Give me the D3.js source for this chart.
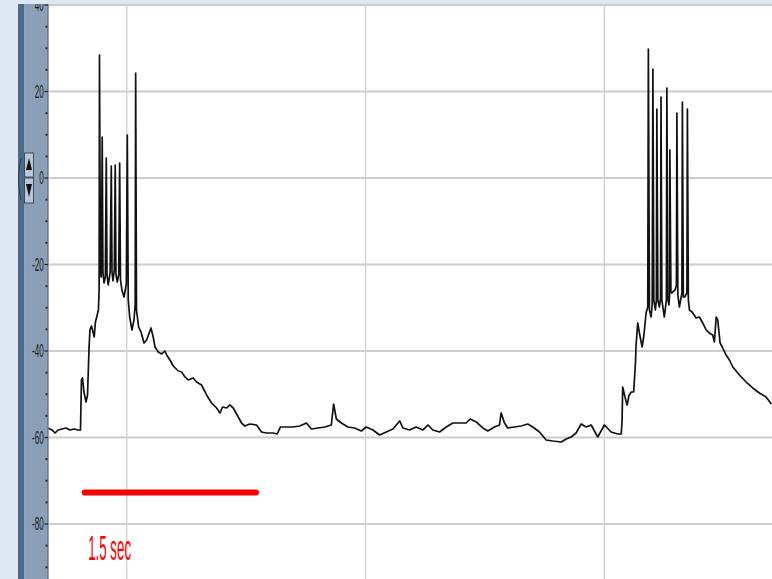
<!DOCTYPE html>
<html><head><meta charset="utf-8">
<script src="https://cdn.jsdelivr.net/npm/d3@7"></script>
<style>html,body{margin:0;padding:0;background:#dde8f4;overflow:hidden}svg{display:block}</style>
</head><body>
<script>
// ---- data ----
const timeS = [1.341,1.374,1.400,1.425,1.458,1.492,1.525,1.559,1.592,1.613,1.621,1.630,1.642,1.659,1.672,1.684,1.692,1.705,1.718,1.728,1.738,1.751,1.763,1.769,1.772,1.780,1.787,1.795,1.801,1.810,1.821,1.829,1.835,1.845,1.861,1.871,1.877,1.885,1.896,1.904,1.910,1.921,1.933,1.941,1.948,1.960,1.977,1.997,2.005,2.013,2.025,2.044,2.061,2.071,2.075,2.082,2.100,2.120,2.145,2.167,2.203,2.222,2.237,2.264,2.293,2.320,2.335,2.362,2.390,2.432,2.460,2.488,2.515,2.557,2.585,2.627,2.669,2.711,2.753,2.781,2.803,2.837,2.864,2.892,2.925,2.962,2.990,3.031,3.087,3.129,3.171,3.226,3.260,3.288,3.338,3.393,3.449,3.505,3.547,3.602,3.658,3.714,3.733,3.756,3.798,3.853,3.909,3.965,4.007,4.062,4.118,4.174,4.230,4.286,4.313,4.369,4.425,4.481,4.523,4.564,4.620,4.676,4.732,4.787,4.843,4.877,4.927,4.982,5.024,5.080,5.122,5.136,5.164,5.191,5.247,5.303,5.359,5.401,5.457,5.513,5.568,5.639,5.681,5.722,5.764,5.806,5.848,5.890,5.945,6.001,6.057,6.113,6.142,6.149,6.154,6.173,6.191,6.206,6.225,6.246,6.261,6.266,6.280,6.294,6.317,6.330,6.350,6.364,6.369,6.378,6.392,6.401,6.407,6.415,6.428,6.436,6.440,6.449,6.461,6.471,6.475,6.482,6.503,6.520,6.524,6.532,6.541,6.547,6.549,6.558,6.564,6.593,6.604,6.608,6.616,6.629,6.650,6.654,6.662,6.675,6.692,6.696,6.704,6.713,6.735,6.769,6.797,6.824,6.853,6.880,6.908,6.922,6.937,6.950,6.970,6.992,7.020,7.048,7.076,7.132,7.188,7.243,7.299,7.355,7.399];
const voltageMV = [-57.80,-58.26,-58.96,-58.26,-58.03,-57.80,-58.26,-58.03,-58.26,-58.26,-46.70,-46.24,-49.48,-51.79,-50.17,-39.77,-35.14,-34.22,-35.61,-36.76,-33.29,-31.91,-30.52,-25.89,28.44,-21.73,-22.89,9.48,-21.73,-24.28,-22.89,4.62,-22.20,-24.74,-21.96,2.78,-21.73,-23.81,-21.27,3.01,-22.20,-24.05,-22.43,3.47,-23.58,-25.89,-27.51,-24.51,9.94,-28.21,-32.14,-35.14,-32.83,-29.36,24.28,-30.52,-34.45,-35.61,-38.15,-37.46,-34.68,-36.76,-39.07,-40.23,-40.69,-40.00,-40.92,-42.08,-43.47,-44.62,-44.85,-46.01,-46.70,-46.24,-47.17,-47.86,-50.17,-52.02,-53.18,-54.33,-52.95,-53.18,-52.48,-53.18,-54.80,-56.65,-57.34,-56.88,-57.11,-58.73,-58.96,-58.96,-59.19,-57.57,-57.57,-57.57,-57.34,-56.65,-58.03,-57.80,-57.57,-57.11,-52.25,-55.72,-56.65,-57.57,-57.80,-58.50,-57.57,-58.26,-59.42,-58.73,-58.03,-56.18,-57.80,-58.26,-57.57,-58.26,-57.11,-58.26,-58.73,-57.57,-56.65,-56.65,-56.65,-55.72,-56.41,-57.80,-58.50,-57.57,-57.11,-54.33,-56.65,-57.80,-57.57,-57.34,-56.88,-57.57,-58.73,-60.58,-60.81,-61.04,-60.35,-59.88,-58.96,-56.88,-57.57,-57.11,-59.88,-57.11,-58.73,-59.19,-59.19,-55.95,-48.32,-50.63,-52.48,-50.40,-49.48,-49.48,-42.77,-38.61,-33.52,-35.84,-39.07,-36.76,-31.21,-29.83,29.83,-30.52,-32.14,-29.36,25.20,-28.21,-30.52,-28.21,15.95,-28.21,-29.83,-27.75,18.73,-28.21,-32.14,-28.21,20.81,-27.75,-29.36,-27.05,6.47,-26.36,-26.59,-25.89,-24.74,15.03,-27.05,-29.83,-26.59,17.57,-27.51,-27.51,-26.59,15.95,-28.21,-30.52,-30.98,-32.37,-32.14,-33.52,-35.14,-35.84,-36.30,-37.92,-32.14,-32.83,-38.15,-39.31,-40.92,-42.08,-43.70,-45.55,-47.17,-48.55,-49.71,-50.63,-52.25];
const yTickValues = [40, 20, 0, -20, -40, -60, -80];
const yTickLabels = ["40", "20", "0", "-20", "-40", "-60", "-80"];
const xGridTimes = [2, 4, 6];
const scaleBarStartS = [1.648];
const scaleBarEndS = [3.083];
const scaleBarLevelMV = [-72.7];
const scaleBarLabel = ["1.5 sec"];

// ---- layout ----
const W = 772, H = 579;
const plotL = 48.5, plotT = 4, plotR = 772, plotB = 579;
const svg = d3.select("body").append("svg").attr("width", W).attr("height", H);

const x = d3.scaleLinear().domain([2, 6]).range([126.7, 604.3]);
const y = d3.scaleLinear().domain([40, -80]).range([5, 524]);

// background regions
svg.append("rect").attr("x", 0).attr("y", 0).attr("width", W).attr("height", H).attr("fill", "#dde8f4");
svg.append("rect").attr("x", 18).attr("y", plotT).attr("width", 6.5).attr("height", H - plotT).attr("fill", "#4e6a88");
svg.append("rect").attr("x", 24.5).attr("y", plotT).attr("width", plotL - 24.5).attr("height", H - plotT).attr("fill", "#8aa0b9");
svg.append("rect").attr("x", plotL).attr("y", plotT).attr("width", plotR - plotL).attr("height", plotB - plotT).attr("fill", "#ffffff");

const defs = svg.append("defs");
defs.append("clipPath").attr("id", "plotclip").append("rect")
  .attr("x", plotL).attr("y", plotT).attr("width", plotR - plotL).attr("height", plotB - plotT);

const plot = svg.append("g").attr("clip-path", "url(#plotclip)");

// grid
plot.append("g").selectAll("line").data(yTickValues).join("line")
  .attr("x1", plotL).attr("x2", plotR)
  .attr("y1", d => y(d)).attr("y2", d => y(d))
  .attr("stroke", "#cccccc").attr("stroke-width", 2);
plot.append("g").selectAll("line").data(xGridTimes).join("line")
  .attr("x1", d => x(d)).attr("x2", d => x(d))
  .attr("y1", plotT).attr("y2", plotB)
  .attr("stroke", "#d4d4d4").attr("stroke-width", 1.5);

// trace
const pts = timeS.map((t, i) => [t, voltageMV[i]]);
plot.append("path").datum(pts)
  .attr("d", d3.line().x(d => x(d[0])).y(d => y(d[1])))
  .attr("fill", "none").attr("stroke", "#111").attr("stroke-width", 1.7)
  .attr("stroke-linejoin", "round");

// scale bar
plot.append("line")
  .attr("x1", x(scaleBarStartS[0])).attr("x2", x(scaleBarEndS[0]))
  .attr("y1", y(scaleBarLevelMV[0])).attr("y2", y(scaleBarLevelMV[0]))
  .attr("stroke", "#ff0000").attr("stroke-width", 6).attr("stroke-linecap", "round");
plot.append("text")
  .attr("transform", `translate(${x(scaleBarStartS[0]) + 3.5},560) scale(0.38,1)`)
  .attr("font-family", "Liberation Sans, Arial, sans-serif").attr("font-size", 35)
  .attr("fill", "#ff0000").text(scaleBarLabel[0]);

// y axis
const axisG = svg.append("g");
axisG.append("line").attr("x1", plotL - 0.5).attr("x2", plotL - 0.5).attr("y1", plotT).attr("y2", H)
  .attr("stroke", "#5a6068").attr("stroke-width", 1);
const minor = d3.range(-90, 41, 5).filter(v => v % 20 !== 0);
axisG.selectAll("rect.minor").data(minor).join("rect").attr("class", "minor")
  .attr("x", 45.5).attr("y", d => y(d) - 1).attr("width", 2).attr("height", 2).attr("fill", "#2a2a2a");
axisG.selectAll("line.major").data(yTickValues).join("line").attr("class", "major")
  .attr("x1", 44.5).attr("x2", 48).attr("y1", d => y(d)).attr("y2", d => y(d))
  .attr("stroke", "#222").attr("stroke-width", 1.2);
axisG.selectAll("text").data(yTickValues).join("text")
  .attr("transform", d => `translate(43.8,${y(d)}) scale(0.45,1)`)
  .attr("text-anchor", "end").attr("dy", "0.36em")
  .attr("font-family", "Liberation Sans, Arial, sans-serif").attr("font-size", 18)
  .attr("fill", "#1a1a1a")
  .text((d, i) => yTickLabels[i]);

// up/down button
const btn = svg.append("g");
btn.append("rect").attr("x", 24.5).attr("y", 153).attr("width", 9).attr("height", 24)
  .attr("fill", "#b8c7d8").attr("stroke", "#3c4a5a").attr("stroke-width", 1);
btn.append("rect").attr("x", 24.5).attr("y", 178).attr("width", 9).attr("height", 25)
  .attr("fill", "#b8c7d8").attr("stroke", "#3c4a5a").attr("stroke-width", 1);
btn.append("path").attr("d", "M29,158 L32,170 L26,170 Z").attr("fill", "#111");
btn.append("path").attr("d", "M26,184 L32,184 L29,197 Z").attr("fill", "#111");
btn.append("path").attr("d", "M21,158 Q16,179 21,200").attr("fill", "none").attr("stroke", "#2e3d4e").attr("stroke-width", 1);

// top strip
svg.append("rect").attr("x", 0).attr("y", 0).attr("width", W).attr("height", plotT).attr("fill", "#dde8f4");
</script>
</body></html>
